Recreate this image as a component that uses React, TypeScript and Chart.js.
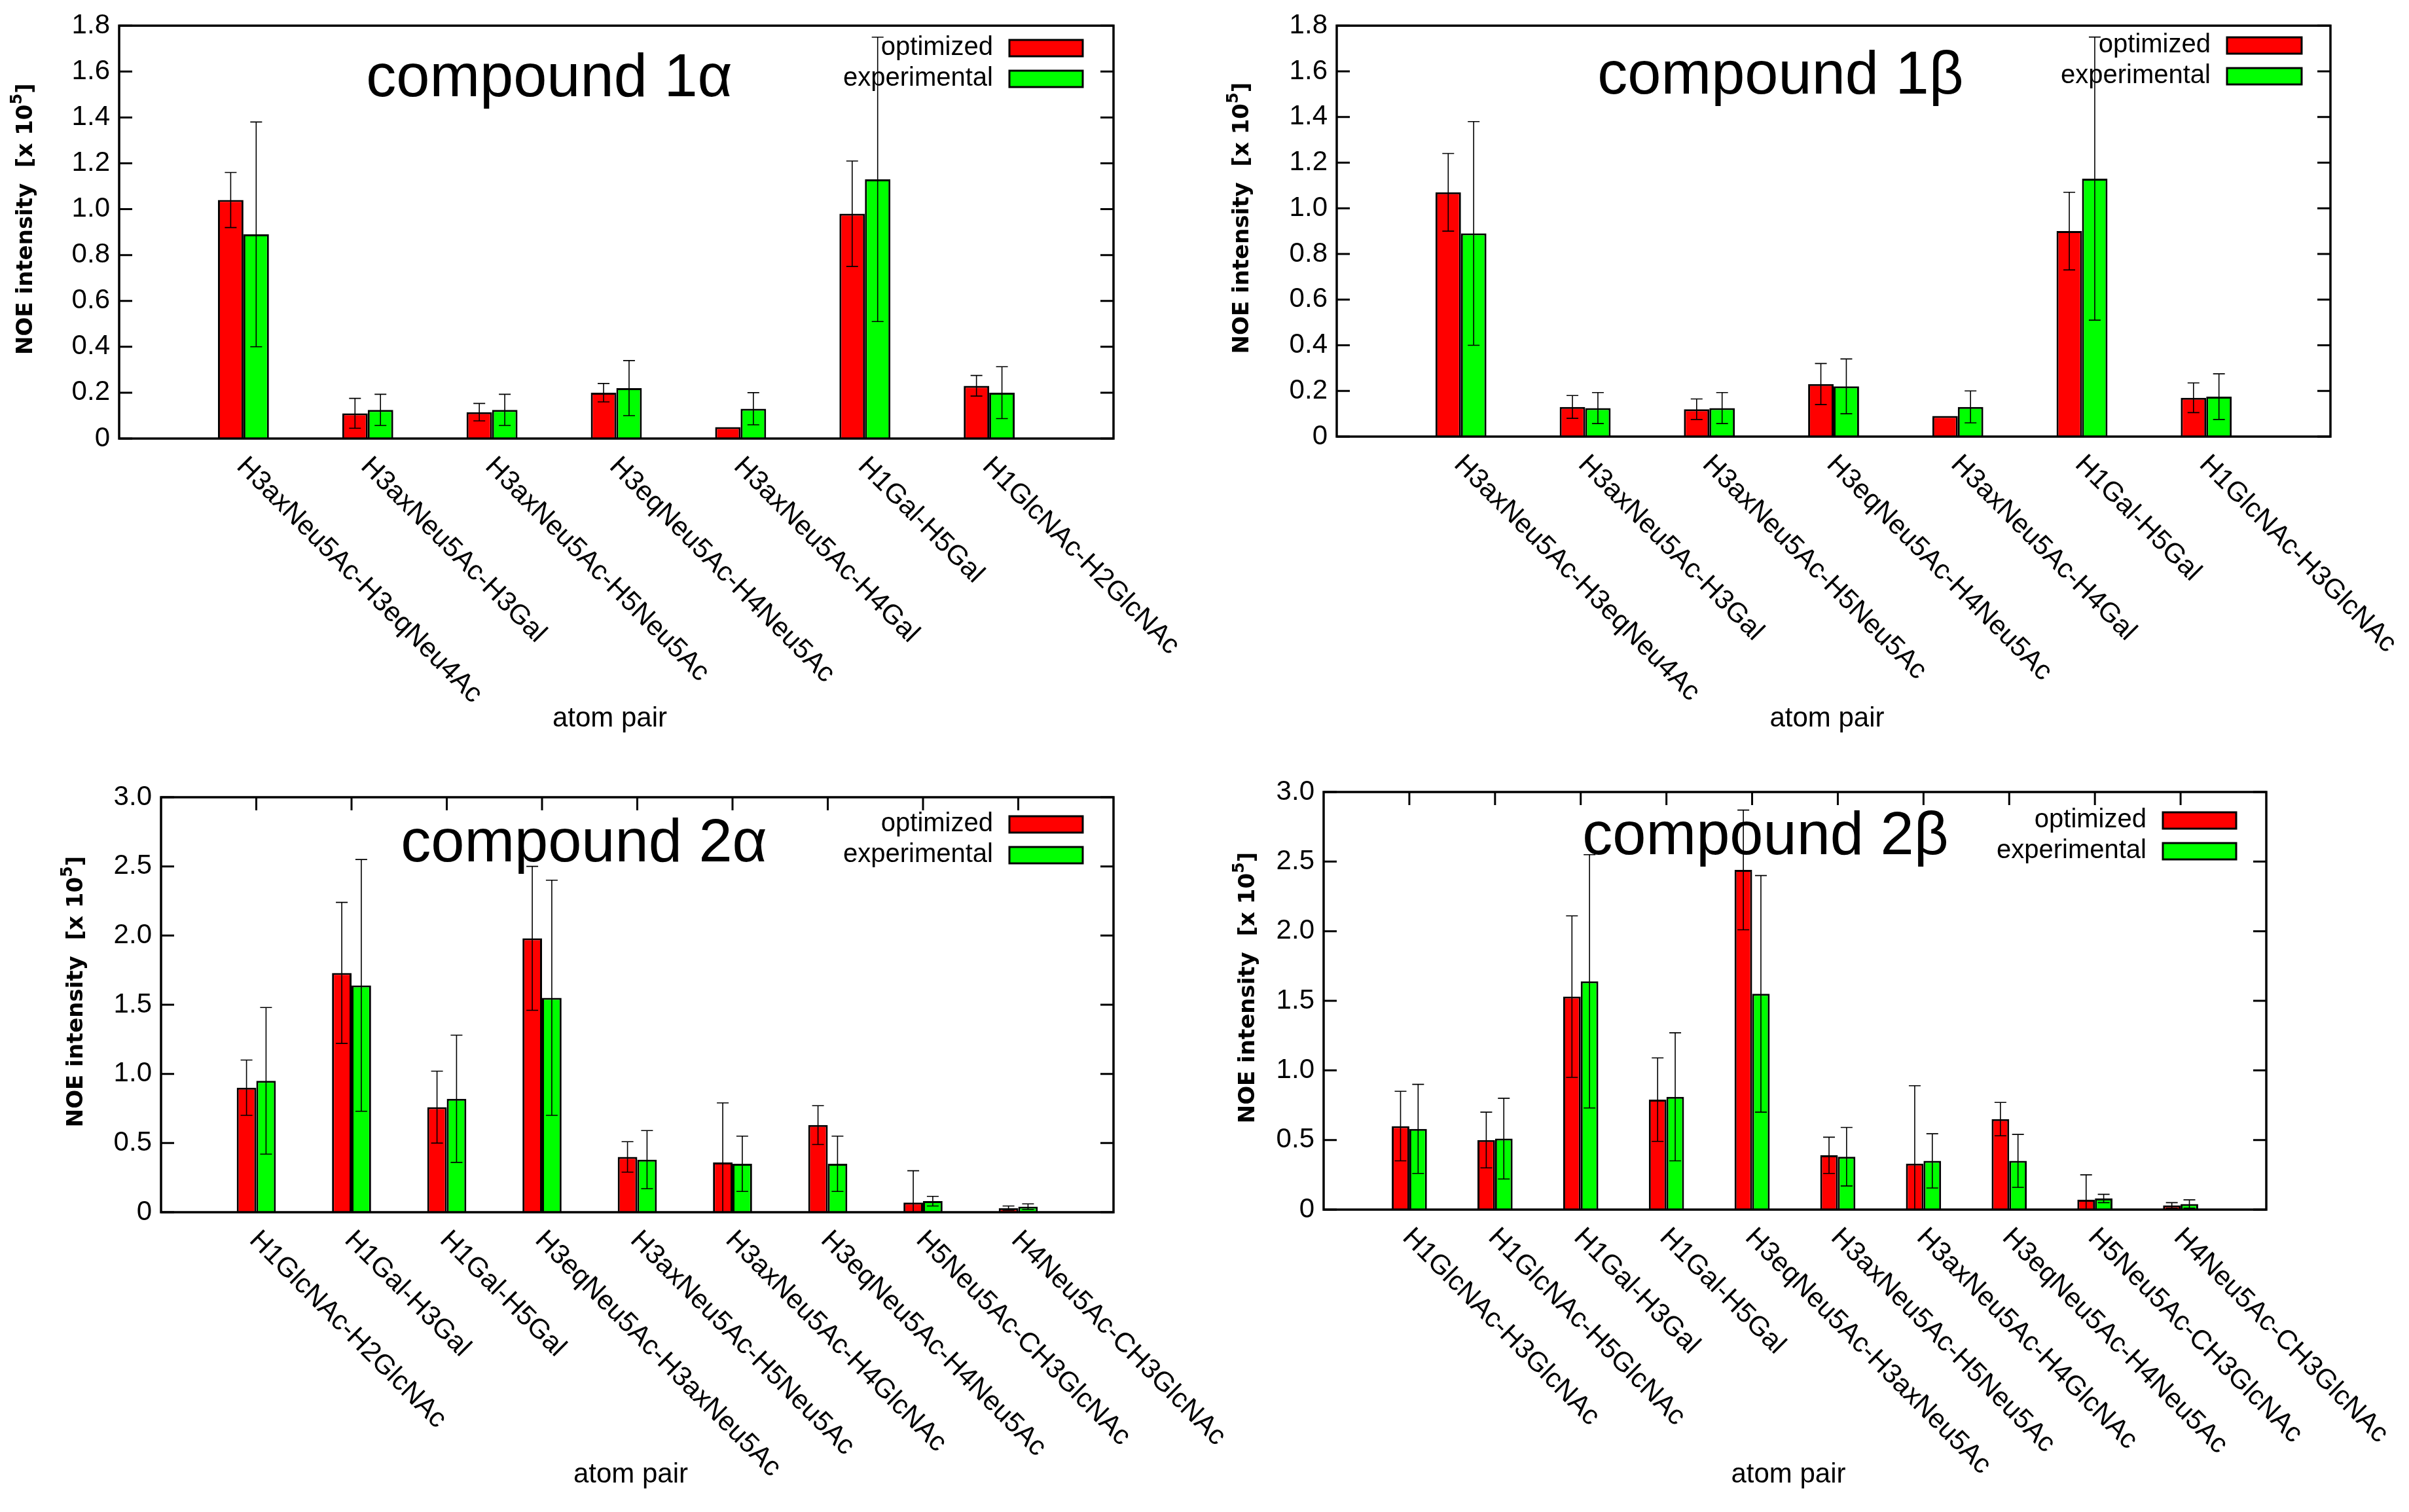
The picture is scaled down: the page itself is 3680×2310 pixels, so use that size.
import React, { useEffect, useRef } from "react";
import { Chart, registerables } from "chart.js";
Chart.register(...registerables);

// ---------- data ----------
const cats1a = ["H3axNeu5Ac-H3eqNeu4Ac", "H3axNeu5Ac-H3Gal", "H3axNeu5Ac-H5Neu5Ac", "H3eqNeu5Ac-H4Neu5Ac", "H3axNeu5Ac-H4Gal", "H1Gal-H5Gal", "H1GlcNAc-H2GlcNAc"];
const opt1a = [1.04, 0.11, 0.115, 0.20, 0.05, 0.98, 0.23];
const optErr1a = [0.12, 0.065, 0.038, 0.04, 0, 0.23, 0.045];
const exp1a = [0.89, 0.125, 0.125, 0.22, 0.13, 1.13, 0.20];
const expErr1a = [0.49, 0.068, 0.068, 0.12, 0.07, 0.62, 0.113];

const cats1b = ["H3axNeu5Ac-H3eqNeu4Ac", "H3axNeu5Ac-H3Gal", "H3axNeu5Ac-H5Neu5Ac", "H3eqNeu5Ac-H4Neu5Ac", "H3axNeu5Ac-H4Gal", "H1Gal-H5Gal", "H1GlcNAc-H3GlcNAc"];
const opt1b = [1.07, 0.13, 0.12, 0.23, 0.09, 0.90, 0.17];
const optErr1b = [0.17, 0.05, 0.045, 0.09, 0, 0.17, 0.065];
const exp1b = [0.89, 0.125, 0.125, 0.22, 0.13, 1.13, 0.175];
const expErr1b = [0.49, 0.068, 0.068, 0.12, 0.07, 0.62, 0.10];

const cats2a = ["H1GlcNAc-H2GlcNAc", "H1Gal-H3Gal", "H1Gal-H5Gal", "H3eqNeu5Ac-H3axNeu5Ac", "H3axNeu5Ac-H5Neu5Ac", "H3axNeu5Ac-H4GlcNAc", "H3eqNeu5Ac-H4Neu5Ac", "H5Neu5Ac-CH3GlcNAc", "H4Neu5Ac-CH3GlcNAc"];
const opt2a = [0.90, 1.73, 0.76, 1.98, 0.40, 0.36, 0.63, 0.07, 0.03];
const optErr2a = [0.20, 0.51, 0.26, 0.52, 0.11, 0.43, 0.14, 0.23, 0.015];
const exp2a = [0.95, 1.64, 0.82, 1.55, 0.38, 0.35, 0.35, 0.08, 0.04];
const expErr2a = [0.53, 0.91, 0.46, 0.85, 0.21, 0.20, 0.20, 0.035, 0.02];

const cats2b = ["H1GlcNAc-H3GlcNAc", "H1GlcNAc-H5GlcNAc", "H1Gal-H3Gal", "H1Gal-H5Gal", "H3eqNeu5Ac-H3axNeu5Ac", "H3axNeu5Ac-H5Neu5Ac", "H3axNeu5Ac-H4GlcNAc", "H3eqNeu5Ac-H4Neu5Ac", "H5Neu5Ac-CH3GlcNAc", "H4Neu5Ac-CH3GlcNAc"];
const opt2b = [0.60, 0.50, 1.53, 0.79, 2.44, 0.39, 0.33, 0.65, 0.07, 0.03];
const optErr2b = [0.25, 0.20, 0.58, 0.30, 0.43, 0.13, 0.56, 0.12, 0.18, 0.02];
const exp2b = [0.58, 0.51, 1.64, 0.81, 1.55, 0.38, 0.35, 0.35, 0.08, 0.04];
const expErr2b = [0.32, 0.29, 0.91, 0.46, 0.85, 0.21, 0.195, 0.19, 0.03, 0.03];

const seriesNames = ["optimized", "experimental"];
const FONT = "'Liberation Sans', Arial, sans-serif";

type Panel = {
  title: string; cats: string[]; opt: number[]; optErr: number[]; exp: number[]; expErr: number[];
  yMax: number; yStep: number;
  left: number; top: number; cw: number; pl: number; pr: number; pt: number; pb: number;
  titleX: number; titleY: number; legRight: number; legBoxW: number; legY1: number; legY2: number;
  yTitleX: number; topTicks: boolean;
};

const panels: Panel[] = [
  { title: "compound 1α", cats: cats1a, opt: opt1a, optErr: optErr1a, exp: exp1a, expErr: expErr1a, yMax: 1.8, yStep: 0.2,
    left: 0, top: 0, cw: 1840, pl: 182, pr: 1701, pt: 29, pb: 670, titleX: 839, titleY: 122, legRight: 1517, legBoxW: 112, legY1: 73, legY2: 120, yTitleX: 40, topTicks: false },
  { title: "compound 1β", cats: cats1b, opt: opt1b, optErr: optErr1b, exp: exp1b, expErr: expErr1b, yMax: 1.8, yStep: 0.2,
    left: 1840, top: 0, cw: 1840, pl: 202, pr: 1720, pt: 26, pb: 667, titleX: 880, titleY: 118, legRight: 1537, legBoxW: 114, legY1: 69, legY2: 116, yTitleX: 58, topTicks: false },
  { title: "compound 2α", cats: cats2a, opt: opt2a, optErr: optErr2a, exp: exp2a, expErr: expErr2a, yMax: 3.0, yStep: 0.5,
    left: 0, top: 1155, cw: 2100, pl: 246, pr: 1701, pt: 63, pb: 697, titleX: 892, titleY: 136, legRight: 1517, legBoxW: 112, legY1: 104, legY2: 151, yTitleX: 117, topTicks: true },
  { title: "compound 2β", cats: cats2b, opt: opt2b, optErr: optErr2b, exp: exp2b, expErr: expErr2b, yMax: 3.0, yStep: 0.5,
    left: 1840, top: 1155, cw: 1840, pl: 182, pr: 1622, pt: 55, pb: 693, titleX: 857, titleY: 125, legRight: 1439, legBoxW: 112, legY1: 98, legY2: 145, yTitleX: 67, topTicks: true },
];

const H = 1155;

function PanelChart({ p }: { p: Panel }) {
  const ref = useRef<HTMLCanvasElement>(null);
  useEffect(() => {
    const labels = ["", ...p.cats, ""];
    const pad = (a: number[]) => [null, ...a, null];
    const errs = [pad(p.optErr), pad(p.expErr)];
    const plugin = {
      id: "gp",
      afterDatasetsDraw(chart: any) {
        const ctx = chart.ctx;
        const ys = chart.scales.y, xs = chart.scales.x;
        const ca = chart.chartArea;
        ctx.save();
        // error bars
        ctx.strokeStyle = "#000"; ctx.lineWidth = 1.6;
        [0, 1].forEach((di) => {
          const meta = chart.getDatasetMeta(di);
          const vals = chart.data.datasets[di].data;
          meta.data.forEach((el: any, i: number) => {
            const v = vals[i], e = errs[di][i];
            if (v == null || !e) return;
            const lo = v - e;
            const y1 = ys.getPixelForValue(Math.max(0, lo)), y2 = ys.getPixelForValue(v + e);
            ctx.beginPath();
            ctx.moveTo(el.x, y1); ctx.lineTo(el.x, y2);
            if (lo > 0) { ctx.moveTo(el.x - 9, y1); ctx.lineTo(el.x + 9, y1); }
            ctx.moveTo(el.x - 9, y2); ctx.lineTo(el.x + 9, y2);
            ctx.stroke();
          });
        });
        // frame
        ctx.lineWidth = 3.5;
        ctx.strokeRect(ca.left, ca.top, ca.right - ca.left, ca.bottom - ca.top);
        // y ticks inward both sides
        ctx.lineWidth = 3;
        ys.ticks.forEach((t: any) => {
          const y = ys.getPixelForValue(t.value);
          ctx.beginPath();
          ctx.moveTo(ca.left, y); ctx.lineTo(ca.left + 20, y);
          ctx.moveTo(ca.right, y); ctx.lineTo(ca.right - 20, y);
          ctx.stroke();
        });
        if (p.topTicks) {
          for (let i = 1; i <= p.cats.length; i++) {
            const x = xs.getPixelForValue(i);
            ctx.beginPath(); ctx.moveTo(x, ca.top); ctx.lineTo(x, ca.top + 20); ctx.stroke();
          }
        }
        // x labels rotated
        ctx.fillStyle = "#000";
        ctx.font = `42px ${FONT}`;
        ctx.textAlign = "left"; ctx.textBaseline = "middle";
        for (let i = 1; i <= p.cats.length; i++) {
          const x = xs.getPixelForValue(i);
          ctx.save();
          ctx.translate(x - 4, ca.bottom + 36);
          ctx.rotate(Math.PI / 4);
          ctx.fillText(labels[i], 0, 0);
          ctx.restore();
        }
        // title
        ctx.font = `92px ${FONT}`;
        ctx.textAlign = "center"; ctx.textBaseline = "middle";
        ctx.fillText(p.title, p.titleX, p.titleY);
        // legend
        ctx.font = `40px ${FONT}`;
        ctx.textAlign = "right";
        const colors = ["#ff0000", "#00ff00"];
        [p.legY1, p.legY2].forEach((y, k) => {
          ctx.fillStyle = "#000";
          ctx.fillText(seriesNames[k], p.legRight, y);
          ctx.fillStyle = colors[k];
          const bx = p.legRight + 25;
          ctx.fillRect(bx, y - 12, p.legBoxW, 25);
          ctx.lineWidth = 3; ctx.strokeStyle = "#000";
          ctx.strokeRect(bx, y - 12, p.legBoxW, 25);
        });
        // axis titles
        ctx.fillStyle = "#000";
        ctx.font = `42px ${FONT}`;
        ctx.textAlign = "center"; ctx.textBaseline = "middle";
        ctx.fillText("atom pair", (ca.left + ca.right) / 2 - 10, H - 57);
        ctx.save();
        ctx.translate(p.yTitleX, (ca.top + ca.bottom) / 2 - 20);
        ctx.rotate(-Math.PI / 2);
        const big = `bold 34px 'DejaVu Sans', sans-serif`, small = `bold 24px 'DejaVu Sans', sans-serif`;
        const a = "NOE intensity  [x 10", b = "5", c = "]";
        ctx.font = big;
        const wa = ctx.measureText(a).width, wc = ctx.measureText(c).width;
        ctx.font = small;
        const wb = ctx.measureText(b).width;
        const tot = wa + wb + wc;
        ctx.textAlign = "left";
        ctx.font = big; ctx.fillText(a, -tot / 2, 0);
        ctx.font = small; ctx.fillText(b, -tot / 2 + wa, -13);
        ctx.font = big; ctx.fillText(c, -tot / 2 + wa + wb, 0);
        ctx.restore();
        ctx.restore();
      },
    };
    const chart = new Chart(ref.current!, {
      type: "bar",
      data: {
        labels,
        datasets: [
          { label: seriesNames[0], data: pad(p.opt), backgroundColor: "#ff0000", borderColor: "#000", borderWidth: 3 },
          { label: seriesNames[1], data: pad(p.exp), backgroundColor: "#00ff00", borderColor: "#000", borderWidth: 3 },
        ],
      },
      options: {
        animation: false, responsive: false, devicePixelRatio: 1,
        layout: { padding: { top: p.pt, right: p.cw - p.pr, left: 0, bottom: 0 } },
        plugins: { legend: { display: false }, tooltip: { enabled: false }, title: { display: false } },
        datasets: { bar: { categoryPercentage: 0.41, barPercentage: 1 } },
        scales: {
          x: {
            offset: false, grid: { display: false }, border: { display: false }, ticks: { display: false },
            afterFit: (s: any) => { s.height = H - p.pb; },
          },
          y: {
            min: 0, max: p.yMax,
            grid: { display: false, drawTicks: false }, border: { display: false },
            ticks: {
              stepSize: p.yStep, padding: 14, color: "#000",
              font: { family: FONT, size: 42 },
              callback: (v: any) => (v === 0 ? "0" : Number(v).toFixed(1)),
            },
            afterFit: (s: any) => { s.width = p.pl; },
          },
        },
      } as any,
      plugins: [plugin],
    });
    return () => chart.destroy();
  }, []);
  return (
    <div style={{ position: "absolute", left: p.left, top: p.top, width: p.cw, height: H }}>
      <canvas ref={ref} width={p.cw} height={H} style={{ width: p.cw, height: H }} />
    </div>
  );
}

export default function App() {
  return (
    <div style={{ position: "absolute", left: 0, top: 0, width: 3680, height: 2310, background: "#fff", overflow: "hidden" }}>
      {panels.map((p, i) => <PanelChart key={i} p={p} />)}
    </div>
  );
}
